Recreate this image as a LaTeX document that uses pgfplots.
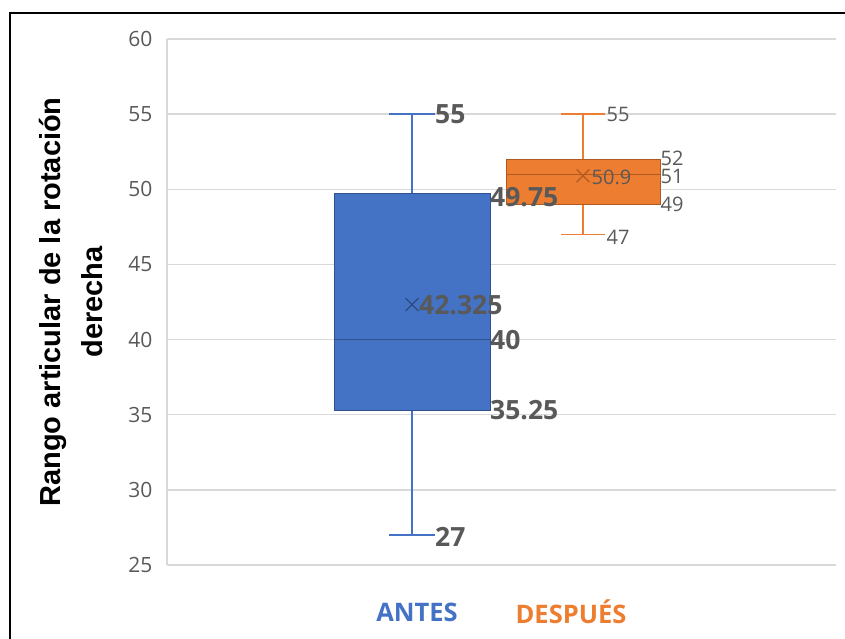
\documentclass[border=0pt]{standalone}
\usepackage{pgfplots}
\pgfplotsset{compat=1.18}
\usepackage{fontspec}
\setmainfont{Open Sans}
\newfontfamily\lib{Liberation Sans}
\definecolor{cblue}{HTML}{4472C4}
\definecolor{cblueD}{HTML}{2F528F}
\definecolor{corange}{HTML}{ED7D31}
\definecolor{corangeD}{HTML}{AE5A21}
\definecolor{tgray}{HTML}{595959}
\definecolor{lgray}{HTML}{D9D9D9}
\begin{document}
\begin{tikzpicture}[x=1pt,y=1pt]
\useasboundingbox (0,0) rectangle (845,639);
\draw[line width=2pt,black] (10,-2) -- (10,626) -- (847,626);
\begin{axis}[
  at={(167pt,74pt)}, anchor=south west,
  scale only axis, width=669pt, height=526pt,
  xmin=167, xmax=836, ymin=25, ymax=60,
  xtick=\empty,
  ytick={25,30,35,40,45,50,55,60},
  ymajorgrids, grid style={lgray, line width=1.5pt},
  axis x line=none,
  axis y line*=left,
  y axis line style={lgray, line width=1.5pt, -},
  major tick length=0pt,
  /pgf/number format/assume math mode=true,
  yticklabel style={font=\fontsize{21}{24}\selectfont, text=tgray, xshift=-11pt},
  ylabel={Rango articular de la rotación\\derecha},
  ylabel style={at={(axis description cs:-0.1435,0.5)}, anchor=center, align=center,
    font=\lib\bfseries\fontsize{29}{42}\selectfont, text=black},
  clip=false,
]
% ANTES: whiskers
\addplot[cblue, line width=1.5pt, mark=none] coordinates {(412,49.75) (412,55)};
\addplot[cblue, line width=1.5pt, mark=none] coordinates {(389,55) (435,55)};
\addplot[cblue, line width=1.5pt, mark=none] coordinates {(412,35.25) (412,27)};
\addplot[cblue, line width=1.5pt, mark=none] coordinates {(389,27) (435,27)};
% ANTES: box (Q1 = 35.25, Q3 = 49.75)
\addplot[fill=cblue, draw=cblueD, line width=1pt, mark=none]
  coordinates {(334,35.25) (490,35.25) (490,49.75) (334,49.75) (334,35.25)};
% ANTES: median 40
\addplot[cblueD, line width=1.2pt, mark=none] coordinates {(334,40) (490,40)};
% ANTES: mean 42.325
\addplot[only marks, mark=x, mark options={draw=cblueD!85!black, line width=1.2pt, mark size=9pt}]
  coordinates {(412,42.325)};
% DESPUES: whiskers
\addplot[corange, line width=1.5pt, mark=none] coordinates {(583,52) (583,55)};
\addplot[corange, line width=1.5pt, mark=none] coordinates {(561,55) (605,55)};
\addplot[corange, line width=1.5pt, mark=none] coordinates {(583,49) (583,47)};
\addplot[corange, line width=1.5pt, mark=none] coordinates {(561,47) (605,47)};
% DESPUES: box (Q1 = 49, Q3 = 52)
\addplot[fill=corange, draw=corangeD, line width=1pt, mark=none]
  coordinates {(506,49) (660,49) (660,52) (506,52) (506,49)};
% DESPUES: median 51
\addplot[corangeD, line width=1.2pt, mark=none] coordinates {(506,51) (660,51)};
% DESPUES: mean 50.9
\addplot[only marks, mark=x, mark options={draw=corangeD, line width=1.2pt, mark size=9pt}]
  coordinates {(583,50.9)};
% labels ANTES
\addplot[draw=none, mark=none, nodes near coords, point meta=explicit symbolic,
  nodes near coords style={anchor=west, inner sep=1pt, text=tgray, font=\bfseries\fontsize{26.5}{30}\selectfont}]
  coordinates {(434,55)[55] (489,49.45)[49.75] (418,42.3)[42.325] (489,39.97)[40] (489,35.3)[35.25] (434,26.9)[27]};
% labels DESPUES
\addplot[draw=none, mark=none, nodes near coords, point meta=explicit symbolic,
  nodes near coords style={anchor=west, inner sep=0.5pt, text=tgray, font=\fontsize{20}{22}\selectfont}]
  coordinates {(606,55)[55] (660,52.05)[52] (660,50.85)[51] (660,49.0)[49] (606,46.8)[47] (591,50.8)[50.9]};
\end{axis}
\node[font=\bfseries\fontsize{25.5}{30}\selectfont, text=cblue] at (417,27) {ANTES};
\node[font=\bfseries\fontsize{25.5}{30}\selectfont, text=corange] at (571,27) {DESPUÉS};
\end{tikzpicture}
\end{document}
